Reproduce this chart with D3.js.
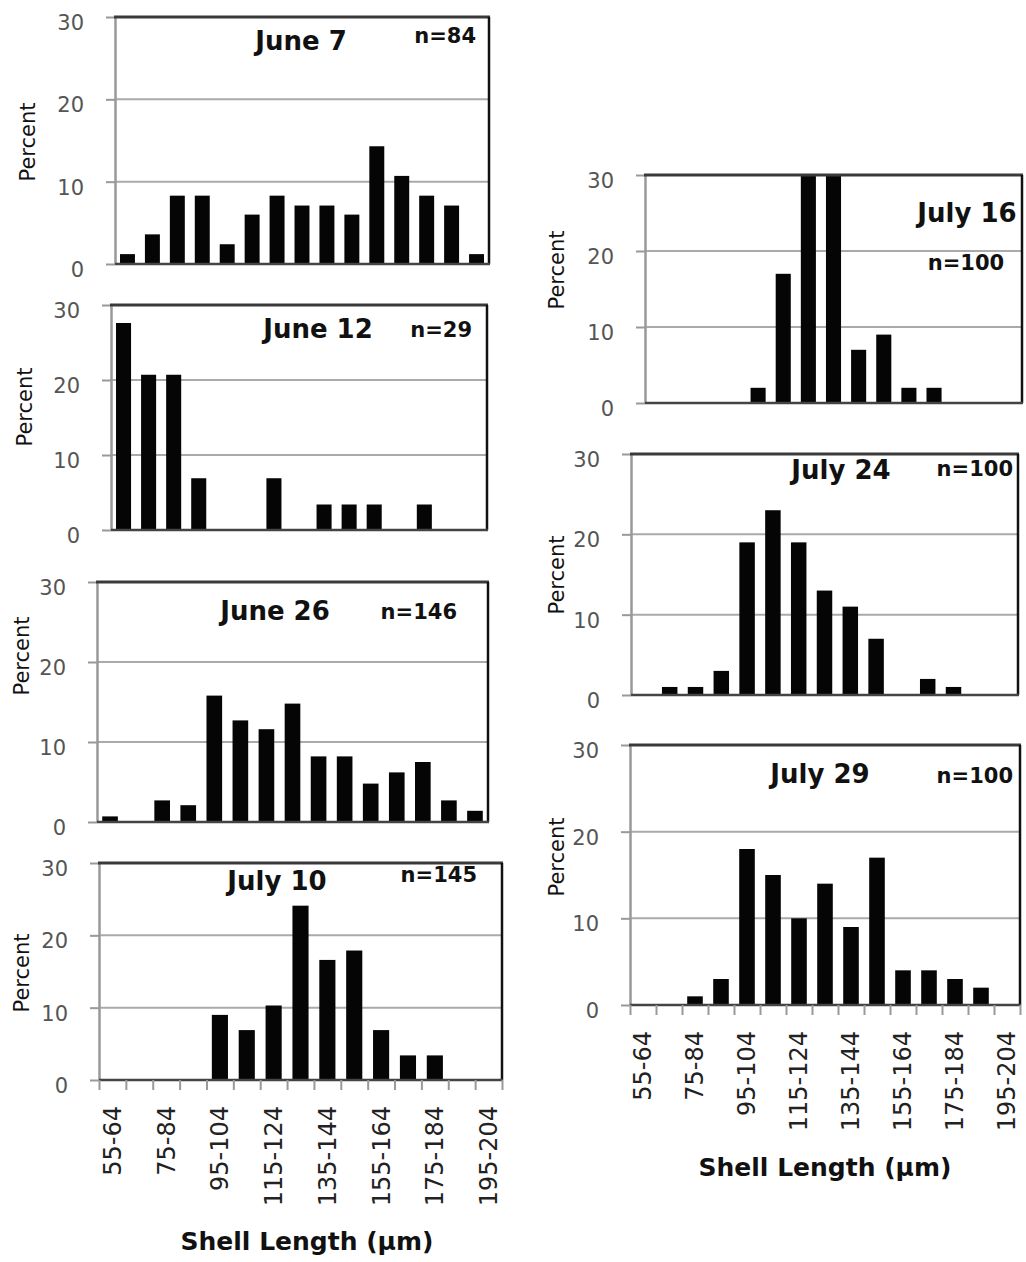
<!DOCTYPE html>
<html>
<head>
  <meta charset="UTF-8">
  <title>Shell length distributions</title>
  <script src="https://cdn.jsdelivr.net/npm/d3@7"></script>
  <style>
    body { margin: 0; background: #fff; }
    svg { display: block; font-family: "DejaVu Sans", sans-serif; }
    .ylab { font-size: 21px; fill: #555; }
    .xlab { font-size: 24px; fill: #222; }
    .pct { font-size: 21px; fill: #111; }
    .title { font-size: 26px; font-weight: bold; fill: #111; }
    .nlab { font-size: 21px; font-weight: bold; fill: #111; }
    .axtitle { font-size: 25px; font-weight: bold; fill: #111; }
  </style>
</head>
<body>
  <svg width="1026" height="1262"></svg>

  <script>
    const categories = ["55-64", "65-74", "75-84", "85-94", "95-104", "105-114", "115-124", "125-134",
      "135-144", "145-154", "155-164", "165-174", "175-184", "185-194", "195-204"];
    const tickLabels = ["55-64", "75-84", "95-104", "115-124", "135-144", "155-164", "175-184", "195-204"];
    const yTicks = [0, 10, 20, 30];
    const dates = ["June 7", "June 12", "June 26", "July 10", "July 16", "July 24", "July 29"];
    const sampleSizes = [84, 29, 146, 145, 100, 100, 100];

    // percent of shells in each size class
    const june7 = [1.2, 3.6, 8.3, 8.3, 2.4, 6.0, 8.3, 7.1, 7.1, 6.0, 14.3, 10.7, 8.3, 7.1, 1.2];
    const june12 = [27.6, 20.7, 20.7, 6.9, 0, 0, 6.9, 0, 3.4, 3.4, 3.4, 0, 3.4, 0, 0];
    const june26 = [0.7, 0, 2.7, 2.1, 15.8, 12.7, 11.6, 14.8, 8.2, 8.2, 4.8, 6.2, 7.5, 2.7, 1.4];
    const july10 = [0, 0, 0, 0, 9.0, 6.9, 10.3, 24.1, 16.6, 17.9, 6.9, 3.4, 3.4, 0, 0];
    const july16 = [0, 0, 0, 0, 2, 17, 30, 31, 7, 9, 2, 2, 0, 0, 0];
    const july24 = [0, 1, 1, 3, 19, 23, 19, 13, 11, 7, 0, 2, 1, 0, 0];
    const july29 = [0, 0, 1, 3, 18, 15, 10, 14, 9, 17, 4, 4, 3, 2, 0];

    const series = [june7, june12, june26, july10, july16, july24, july29];

    // panel placement on the page
    const layout = [
      { x0: 115, x1: 489, y0: 17, y1: 264, title: [301, 50], n: [476, 43, "end"], pct: [28, 142] },
      { x0: 111, x1: 487, y0: 305, y1: 530, title: [318, 338], n: [472, 337, "end"], pct: [25, 407] },
      { x0: 97, x1: 488, y0: 582, y1: 822, title: [275, 620], n: [457, 619, "end"], pct: [22, 656] },
      { x0: 99, x1: 502, y0: 863, y1: 1080, title: [277, 890], n: [477, 882, "end"], pct: [22, 973], xTitle: [307, 1250] },
      { x0: 645, x1: 1022, y0: 175, y1: 403, title: [967, 222], n: [966, 270, "middle"], pct: [557, 270] },
      { x0: 631, x1: 1018, y0: 454, y1: 695, title: [841, 479], n: [1013, 476, "end"], pct: [557, 575] },
      { x0: 630, x1: 1020, y0: 745, y1: 1005, title: [820, 783], n: [1013, 783, "end"], pct: [557, 857], xTitle: [825, 1176] }
    ];

    const svg = d3.select("svg");
    svg.append("rect").attr("width", 1026).attr("height", 1262).attr("fill", "#fff");

    layout.forEach((p, i) => {
      const values = series[i];
      const g = svg.append("g");

      const x = d3.scaleBand()
        .domain(categories)
        .range([p.x0, p.x1])
        .paddingInner(0.4)
        .paddingOuter(0.2);

      const y = d3.scaleLinear()
        .domain([0, 30])
        .range([p.y1, p.y0])
        .clamp(true);

      // gridlines
      g.selectAll(".grid")
        .data(yTicks.filter(t => t > 0 && t < 30))
        .join("line")
        .attr("x1", p.x0).attr("x2", p.x1)
        .attr("y1", d => y(d)).attr("y2", d => y(d))
        .attr("stroke", "#aaa")
        .attr("stroke-width", 2);

      // bars
      g.selectAll(".bar")
        .data(values.map((v, k) => ({ cat: categories[k], v })).filter(d => d.v > 0))
        .join("rect")
        .attr("x", d => x(d.cat))
        .attr("width", x.bandwidth())
        .attr("y", d => y(d.v))
        .attr("height", d => y(0) - y(d.v))
        .attr("fill", "#050505");

      // y axis
      const ya = g.append("g")
        .attr("transform", `translate(${p.x0},0)`)
        .call(d3.axisLeft(y).tickValues(yTicks).tickSize(9).tickSizeOuter(0).tickPadding(22));
      ya.select(".domain").attr("stroke", "#999").attr("stroke-width", 2.5);
      ya.selectAll(".tick line").attr("stroke", "#999").attr("stroke-width", 2);
      ya.selectAll(".tick text")
        .attr("class", "ylab")
        .attr("font-size", null)
        .attr("font-family", null)
        .attr("fill", null)
        .attr("dy", "0.6em");
      ya.attr("font-size", null).attr("font-family", null);

      // frame: top, right, bottom
      g.append("line").attr("x1", p.x0 - 1).attr("x2", p.x1 + 1).attr("y1", p.y0).attr("y2", p.y0)
        .attr("stroke", "#3a3a3a").attr("stroke-width", 3);
      g.append("line").attr("x1", p.x1).attr("x2", p.x1).attr("y1", p.y0).attr("y2", p.y1)
        .attr("stroke", "#111").attr("stroke-width", 2.5);
      g.append("line").attr("x1", p.x0).attr("x2", p.x1 + 1).attr("y1", p.y1).attr("y2", p.y1)
        .attr("stroke", "#444").attr("stroke-width", 2.5);

      // y axis title
      g.append("text")
        .attr("class", "pct")
        .attr("transform", `translate(${p.pct[0]},${p.pct[1]}) rotate(-90)`)
        .attr("text-anchor", "middle")
        .attr("dy", "0.35em")
        .text("Percent");

      // date and sample size
      g.append("text")
        .attr("class", "title")
        .attr("x", p.title[0]).attr("y", p.title[1])
        .attr("text-anchor", "middle")
        .text(dates[i]);
      g.append("text")
        .attr("class", "nlab")
        .attr("x", p.n[0]).attr("y", p.n[1])
        .attr("text-anchor", p.n[2])
        .text("n=" + sampleSizes[i]);

      // x axis only on bottom panels
      if (p.xTitle) {
        const xb = d3.scaleLinear().domain([0, categories.length]).range([p.x0, p.x1]);
        const xa = g.append("g")
          .attr("transform", `translate(0,${p.y1})`)
          .call(d3.axisBottom(xb).tickValues(d3.range(categories.length + 1)).tickSize(10).tickFormat(""));
        xa.select(".domain").remove();
        xa.selectAll(".tick line").attr("stroke", "#999").attr("stroke-width", 2);

        g.selectAll(".xlab")
          .data(tickLabels)
          .join("text")
          .attr("class", "xlab")
          .attr("transform", d => `translate(${x(d) + x.bandwidth() / 2},${p.y1 + 26}) rotate(-90)`)
          .attr("text-anchor", "end")
          .attr("dy", "0.35em")
          .text(d => d);

        g.append("text")
          .attr("class", "axtitle")
          .attr("x", p.xTitle[0]).attr("y", p.xTitle[1])
          .attr("text-anchor", "middle")
          .text("Shell Length (\u00b5m)");
      }
    });
  </script>
</body>
</html>
